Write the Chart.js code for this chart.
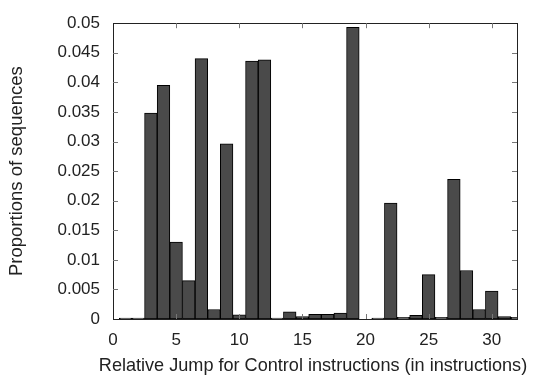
<!DOCTYPE html>
<html>
<head>
<meta charset="utf-8">
<script src="https://cdn.jsdelivr.net/npm/chart.js@4/dist/chart.umd.min.js"></script>
<style>
  html, body { margin: 0; padding: 0; background: #fff; }
  #wrap { width: 533px; height: 381px; position: relative; }
</style>
</head>
<body>
<div id="wrap"><canvas id="c" width="533" height="381"></canvas></div>
<script>
// Relative jump distance (instructions)
const jumps = [1, 2, 3, 4, 5, 6, 7, 8, 9, 10, 11, 12, 13, 14, 15, 16, 17, 18, 19, 20, 21, 22, 23, 24, 25, 26, 27, 28, 29, 30, 31, 32];
// Proportion of sequences
const proportions = [0, 0, 0.0348, 0.0395, 0.013, 0.0065, 0.044, 0.0016, 0.0296, 0.0007, 0.0436, 0.0438, 0, 0.0012, 0.0004, 0.0008, 0.0008, 0.001, 0.0493, null, 0, 0.0196, 0.0003, 0.0006, 0.0075, 0.0003, 0.0236, 0.0082, 0.0016, 0.0047, 0.0004, 0.0003];
const xTicks = [0, 5, 10, 15, 20, 25, 30];
const yTicks = [0, 0.005, 0.01, 0.015, 0.02, 0.025, 0.03, 0.035, 0.04, 0.045, 0.05];
const xTitle = 'Relative Jump for Control instructions (in instructions)';
const yTitle = 'Proportions of sequences';

const FONT = "'Liberation Sans', Arial, sans-serif";

const frameTicks = {
  id: 'frameTicks',
  afterDatasetsDraw(chart) {
    const { ctx, chartArea: a, scales } = chart;
    ctx.save();
    ctx.strokeStyle = '#222';
    ctx.lineWidth = 1;
    ctx.strokeRect(Math.round(a.left) + 0.5, Math.round(a.top) + 0.5,
                   Math.round(a.right - a.left), Math.round(a.bottom - a.top));
    ctx.strokeStyle = '#777';
    const L = 5;
    scales.x.ticks.forEach(t => {
      const px = Math.round(scales.x.getPixelForValue(t.value)) + 0.5;
      if (px <= a.left + 1 || px >= a.right - 1) return;
      ctx.beginPath();
      ctx.moveTo(px, a.top); ctx.lineTo(px, a.top + L);
      ctx.moveTo(px, a.bottom); ctx.lineTo(px, a.bottom - L);
      ctx.stroke();
    });
    scales.y.ticks.forEach(t => {
      const py = Math.round(scales.y.getPixelForValue(t.value)) + 0.5;
      if (py <= a.top + 1 || py >= a.bottom - 1) return;
      ctx.beginPath();
      ctx.moveTo(a.left, py); ctx.lineTo(a.left + L, py);
      ctx.moveTo(a.right, py); ctx.lineTo(a.right - L, py);
      ctx.stroke();
    });
    ctx.restore();
  },
  afterDraw(chart) {
    // x-axis title drawn without Chart.js's chart-area width clamp
    const { ctx, chartArea: a } = chart;
    ctx.save();
    ctx.fillStyle = '#222';
    ctx.font = '18.1px ' + FONT;
    ctx.textAlign = 'center';
    ctx.textBaseline = 'alphabetic';
    ctx.fillText(xTitle, (a.left + a.right) / 2 - 2, a.bottom + 52);
    ctx.restore();
  }
};

new Chart(document.getElementById('c'), {
  type: 'bar',
  data: {
    datasets: [{
      data: jumps.map((x, i) => ({ x: x, y: proportions[i] })),
      backgroundColor: '#4a4a4a',
      borderColor: '#000',
      borderWidth: 1,
      borderSkipped: false,
      minBarLength: 1,
      barPercentage: 1,
      categoryPercentage: 1
    }]
  },
  options: {
    responsive: false,
    animation: false,
    devicePixelRatio: 1,
    layout: { padding: { top: 13, right: 16, left: 0, bottom: 0 } },
    plugins: { legend: { display: false }, tooltip: { enabled: false } },
    scales: {
      x: {
        type: 'linear',
        offset: false,
        min: 0, max: 32,
        afterBuildTicks(s) { s.ticks = xTicks.map(v => ({ value: v })); },
        afterFit(s) { s.height = 62; },
        grid: { display: false, drawTicks: false },
        border: { display: false },
        ticks: {
          color: '#222', padding: 11,
          font: { family: FONT, size: 17 },
          maxRotation: 0, autoSkip: false,
          callback: v => String(v)
        },
        title: { display: false }
      },
      y: {
        min: 0, max: 0.05,
        afterBuildTicks(s) { s.ticks = yTicks.map(v => ({ value: v })); },
        afterFit(s) { s.width = 113; },
        grid: { display: false, drawTicks: false },
        border: { display: false },
        ticks: {
          color: '#222', padding: 13,
          font: { family: FONT, size: 17 },
          autoSkip: false,
          callback: v => String(Number(v.toFixed(3)))
        },
        title: {
          display: true, text: yTitle, color: '#222',
          font: { family: FONT, size: 18.5 },
          padding: { top: 6, bottom: 0 }
        }
      }
    }
  },
  plugins: [frameTicks]
});
</script>
</body>
</html>
